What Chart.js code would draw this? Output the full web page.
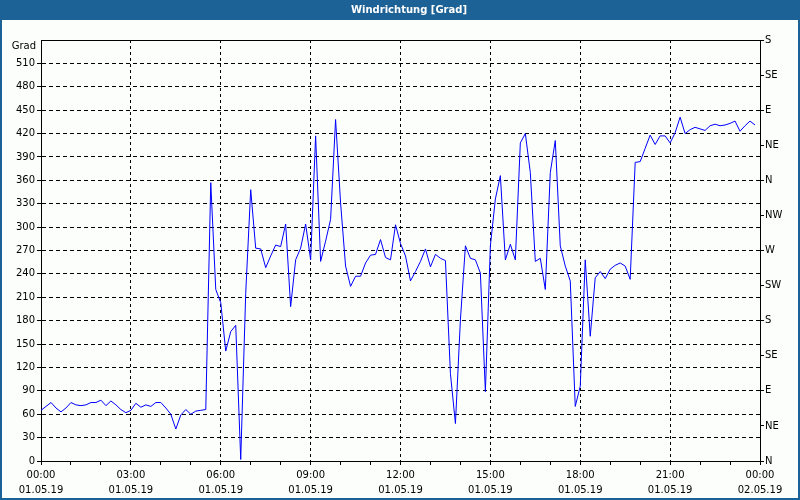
<!DOCTYPE html>
<html>
<head>
<meta charset="utf-8">
<script src="https://cdn.jsdelivr.net/npm/chart.js@4/dist/chart.umd.min.js"></script>
<style>
  html, body { margin: 0; padding: 0; background: #fcfefc; }
  #wrap { width: 800px; height: 500px; }
</style>
</head>
<body>
<div id="wrap"><canvas id="windChart" width="800" height="500"></canvas></div>
<script>
// Windrichtung 01.05.19, 10-Minuten-Werte
const stepMinutes = 10;
const windDir = [
  65, 70, 75, 68, 63, 68, 75, 72, 71, 72,
  75, 75, 78, 71, 77, 72, 66, 62, 65, 74,
  69, 72, 70, 75, 75, 68, 60, 41, 59, 66,
  60, 64, 65, 66, 357, 220, 203, 141, 166, 174,
  2, 215, 348, 273, 272, 248, 263, 277, 275, 304,
  198, 258, 273, 304, 258, 417, 256, 282, 310, 438,
  331, 250, 224, 237, 237, 254, 264, 265, 284, 261,
  258, 303, 279, 263, 231, 243, 256, 272, 249, 265,
  260, 257, 112, 48, 181, 276, 260, 258, 241, 89,
  276, 336, 366, 258, 278, 258, 408, 420, 370, 256,
  260, 220, 370, 411, 276, 250, 231, 70, 96, 258,
  160, 235, 243, 234, 246, 251, 254, 250, 233, 383,
  384, 401, 418, 406, 417, 417, 408, 421, 441, 420,
  425, 428, 426, 424, 430, 432, 430, 431, 433, 436,
  423, 430, 436, 431
];
const timeLabels = ['00:00', '03:00', '06:00', '09:00', '12:00', '15:00', '18:00', '21:00', '00:00'];
const dateLabels = ['01.05.19', '01.05.19', '01.05.19', '01.05.19', '01.05.19', '01.05.19', '01.05.19', '01.05.19', '02.05.19'];
const compass = ['N', 'NE', 'E', 'SE', 'S', 'SW', 'W', 'NW', 'N', 'NE', 'E', 'SE', 'S'];
const chartTitle = 'Windrichtung [Grad]';

const points = windDir.map((v, i) => ({ x: i * stepMinutes, y: v }));
const tickFont = { family: 'DejaVu Sans', size: 10, lineHeight: 1.5 };

// blue window frame, title bar, top line and the "Grad" unit label
const framePlugin = {
  id: 'frame',
  beforeDraw(chart) {
    const c = chart.ctx;
    c.save();
    c.fillStyle = '#1c6296';
    c.fillRect(0, 0, chart.width, chart.height);
    c.fillStyle = '#fcfefc';
    c.fillRect(2, 20, chart.width - 4, chart.height - 22);
    c.fillStyle = '#ffffff';
    c.font = 'bold 10px "DejaVu Sans"';
    c.textAlign = 'center';
    c.textBaseline = 'middle';
    c.fillText(chartTitle, 409, 10);
    c.restore();
  },
  afterDraw(chart) {
    const c = chart.ctx;
    const a = chart.chartArea;
    c.save();
    c.strokeStyle = '#000';
    c.lineWidth = 1;
    c.beginPath();
    c.moveTo(a.left, a.top + 0.5);
    c.lineTo(a.right, a.top + 0.5);
    c.stroke();
    c.fillStyle = '#000';
    c.font = '10px "DejaVu Sans"';
    c.textAlign = 'right';
    c.textBaseline = 'middle';
    c.fillText('Grad', a.left - 5, a.top + 6);
    c.restore();
  }
};

new Chart(document.getElementById('windChart'), {
  type: 'line',
  data: {
    datasets: [{
      data: points,
      borderColor: '#0000ff',
      borderWidth: 1,
      pointRadius: 0,
      tension: 0,
      fill: false
    }]
  },
  options: {
    responsive: false,
    animation: false,
    layout: { padding: { top: 40, left: 0, right: 0, bottom: 0 } },
    plugins: {
      legend: { display: false },
      tooltip: { enabled: false },
      title: { display: false }
    },
    scales: {
      x: {
        type: 'linear',
        min: 0,
        max: 1440,
        afterFit: (s) => { s.height = 39; },
        afterBuildTicks: (s) => {
          s.ticks = [];
          for (let m = 0; m <= 1440; m += 60) s.ticks.push({ value: m });
        },
        ticks: {
          autoSkip: false,
          maxRotation: 0,
          padding: 3,
          color: '#000',
          font: tickFont,
          callback: (v) => (v % 180 === 0 ? [timeLabels[v / 180], dateLabels[v / 180]] : '')
        },
        grid: {
          color: (ctx) => {
            const v = ctx.tick ? ctx.tick.value : 0;
            return (v % 180 === 0 && v > 0 && v < 1440) ? '#000' : 'rgba(0,0,0,0)';
          },
          tickColor: '#000',
          tickLength: 4,
          tickBorderDash: []
        },
        border: { color: '#000', width: 1, dash: [3, 3] }
      },
      y: {
        position: 'left',
        min: 0,
        max: 540,
        afterFit: (s) => { s.width = 41; },
        ticks: {
          stepSize: 30,
          padding: 2,
          color: '#000',
          font: tickFont,
          callback: (v) => (v === 540 ? '' : v)
        },
        grid: {
          color: (ctx) => {
            const v = ctx.tick ? ctx.tick.value : 0;
            return (v > 0 && v < 540) ? '#000' : 'rgba(0,0,0,0)';
          },
          tickColor: (ctx) => (ctx.tick && ctx.tick.value === 540 ? 'rgba(0,0,0,0)' : '#000'),
          tickLength: 4,
          tickBorderDash: []
        },
        border: { color: '#000', width: 1, dash: [4, 3] }
      },
      yDir: {
        position: 'right',
        min: 0,
        max: 540,
        afterFit: (s) => { s.width = 40; },
        afterBuildTicks: (s) => {
          s.ticks = compass.map((c, i) => ({ value: i * 45 }));
        },
        ticks: {
          padding: 1,
          color: '#000',
          font: tickFont,
          callback: (v) => compass[Math.round(v / 45)]
        },
        grid: {
          drawOnChartArea: false,
          tickColor: '#000',
          tickLength: 4
        },
        border: { color: '#000', width: 1 }
      }
    }
  },
  plugins: [framePlugin]
});
</script>
</body>
</html>
